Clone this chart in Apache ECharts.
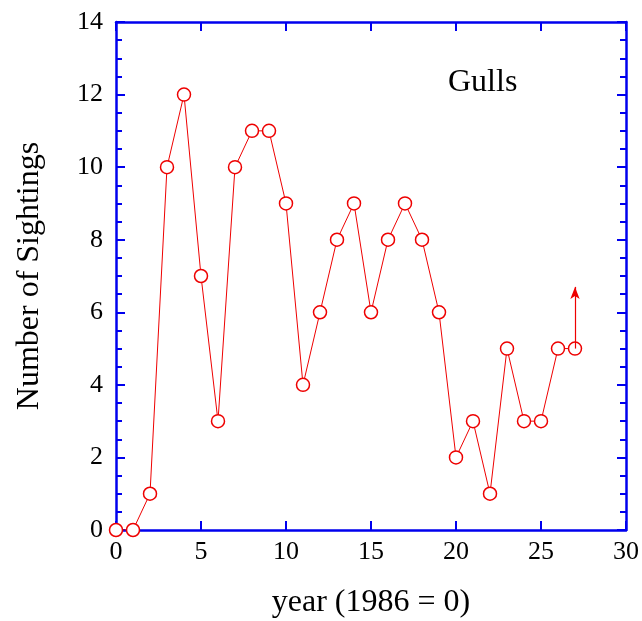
<!DOCTYPE html>
<html>
<head>
<meta charset="utf-8">
<script src="https://cdn.jsdelivr.net/npm/echarts@6/dist/echarts.min.js"></script>
<style>
  html, body { margin: 0; padding: 0; background: #fff; }
  #chart { width: 642px; height: 621px; }
</style>
</head>
<body>
<div id="chart"></div>
<script>
const years = [0, 1, 2, 3, 4, 5, 6, 7, 8, 9, 10, 11, 12, 13, 14, 15, 16, 17, 18, 19, 20, 21, 22, 23, 24, 25, 26, 27]
const sightings = [0, 0, 1, 10, 12, 7, 3, 10, 11, 11, 9, 4, 6, 8, 9, 6, 8, 9, 8, 6, 2, 3, 1, 5, 3, 3, 5, 5]
// last point is a lower bound, drawn with an arrow up to here
const arrowFrom = [27, 5]
const arrowTo = [27, 6.7]

const chart = echarts.init(document.getElementById('chart'))

const axisColor = '#0000ee'
const serif = 'Liberation Serif'

const baseAxis = {
  type: 'value',
  axisLine: { show: true, onZero: false, lineStyle: { color: axisColor, width: 2.5 } },
  axisTick: { show: true, inside: true, length: 9, lineStyle: { color: axisColor, width: 2 } },
  splitLine: { show: false }
}
const yMinor = { show: true, splitNumber: 4, length: 6, lineStyle: { color: axisColor, width: 2 } }

const option = {
  animation: false,
  grid: { left: 116, right: 16, top: 22, bottom: 91, outerBoundsMode: 'none' },
  xAxis: [
    {
      ...baseAxis,
      min: 0, max: 30, interval: 5,
      position: 'bottom',
      axisLabel: { color: '#000', fontFamily: serif, fontSize: 26, margin: 9 },
      name: 'year (1986 = 0)',
      nameLocation: 'middle',
      nameGap: 57,
      nameTextStyle: { color: '#000', fontFamily: serif, fontSize: 32 }
    },
    {
      ...baseAxis,
      min: 0, max: 30, interval: 5,
      position: 'top',
      axisLabel: { show: false }
    }
  ],
  yAxis: [
    {
      ...baseAxis,
      min: 0, max: 14, interval: 2,
      position: 'left',
      minorTick: yMinor,
      axisLabel: { color: '#000', fontFamily: serif, fontSize: 26, margin: 13 },
      name: 'Number of Sightings',
      nameLocation: 'middle',
      nameGap: 70,
      nameTextStyle: { color: '#000', fontFamily: serif, fontSize: 32 }
    },
    {
      ...baseAxis,
      min: 0, max: 14, interval: 2,
      position: 'right',
      minorTick: yMinor,
      axisLabel: { show: false }
    }
  ],
  graphic: [
    {
      type: 'text',
      left: 448,
      top: 67,
      style: { text: 'Gulls', fontFamily: serif, fontSize: 32, fill: '#000' }
    }
  ],
  series: [
    {
      type: 'line',
      data: years.map((y, i) => [y, sightings[i]]),
      symbol: 'circle',
      symbolSize: 13,
      showAllSymbol: true,
      lineStyle: { color: '#ee0000', width: 1 },
      itemStyle: { color: '#fff', borderColor: '#ee0000', borderWidth: 1.5 },
      z: 3,
      markLine: {
        silent: true,
        symbol: ['none', 'arrow'],
        symbolSize: [7, 12],
        label: { show: false },
        lineStyle: { color: '#ee0000', width: 1.2, type: 'solid' },
        data: [[{ coord: arrowFrom }, { coord: arrowTo }]]
      }
    }
  ]
}

chart.setOption(option)
</script>
</body>
</html>
